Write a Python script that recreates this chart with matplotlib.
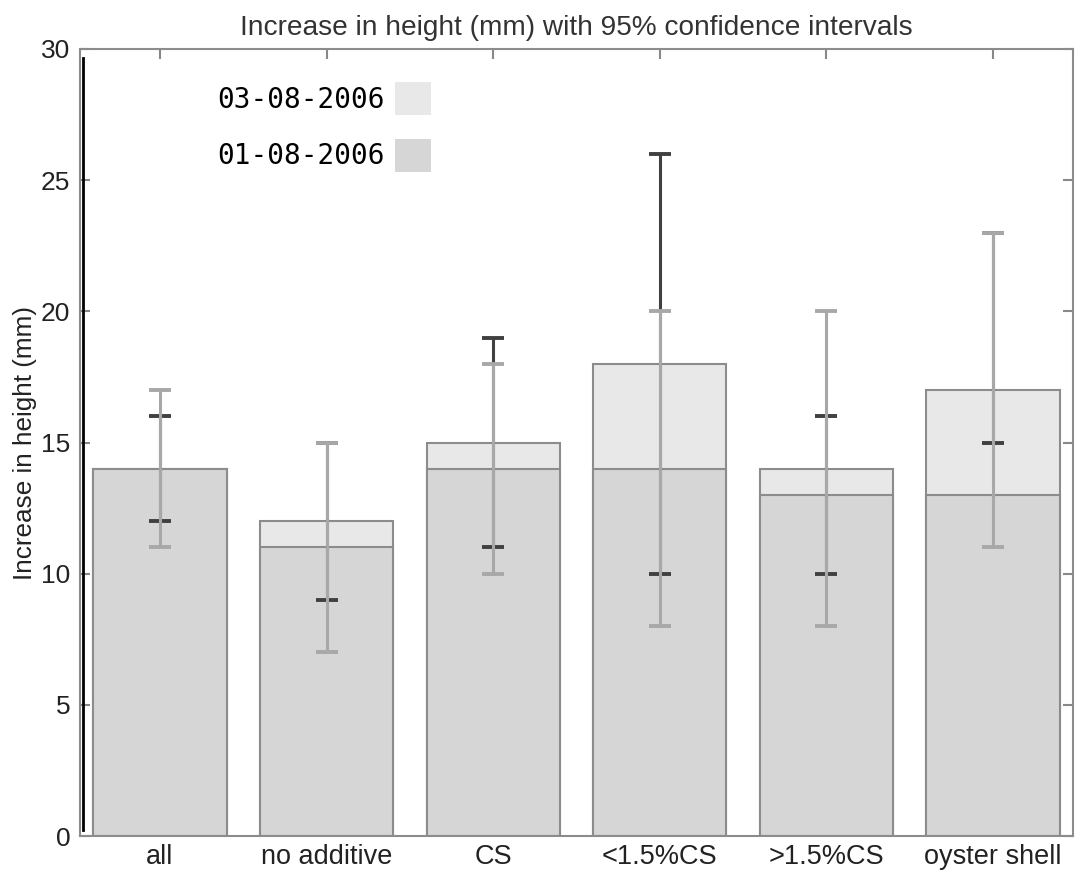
import matplotlib.pyplot as plt
from matplotlib.patches import Patch
from matplotlib.lines import Line2D
import numpy as np

categories = ['all', 'no additive', 'CS', '<1.5%CS', '>1.5%CS', 'oyster shell']
height_0308 = [14, 12, 15, 18, 14, 17]
height_0108 = [14, 11, 14, 14, 13, 13]

# confidence intervals (lower, upper)
ci_gray_low = [11, 7, 10, 8, 8, 11]
ci_gray_high = [17, 15, 18, 20, 20, 23]
ci_dark_low = [12, 9, 11, 10, 10, 15]
ci_dark_high = [16, 15, 19, 26, 16, 23]

light = '#e8e8e8'
mid = '#d6d6d6'
edge = '#8c8c8c'
plt.rcParams['font.family'] = ['Liberation Sans', 'DejaVu Sans']

fig = plt.figure(figsize=(10.75, 8.82), dpi=100)
ax = fig.add_axes([80/1075, 1-836/882, 993/1075, 787/882])

x = np.arange(len(categories))
ax.bar(x, height_0308, width=0.8, color=light, edgecolor=edge, linewidth=1.5, zorder=1)
ax.bar(x, height_0108, width=0.8, color=mid, edgecolor=edge, linewidth=1.5, zorder=2)

def draw_ci(low, high, color, z):
    low = np.array(low, float)
    high = np.array(high, float)
    mid_pt = (low + high) / 2
    ax.errorbar(x, mid_pt, yerr=[mid_pt - low, high - mid_pt], fmt='none',
                ecolor=color, elinewidth=2.2, capsize=8, capthick=2.8, zorder=z)

draw_ci(ci_dark_low, ci_dark_high, '#404040', 3)
draw_ci(ci_gray_low, ci_gray_high, '#a8a8a8', 4)

ax.set_xlim(-0.48, 5.48)
ax.set_ylim(0, 30)
ax.set_xticks(x)
ax.set_xticklabels(categories, fontsize=19.5, color='#222222')
ax.set_yticks([0, 5, 10, 15, 20, 25, 30])
ax.tick_params(axis='y', labelsize=19, colors='#888888', labelcolor='#222222',
               direction='in', length=7, width=1.5, right=True, pad=7)
ax.tick_params(axis='x', colors='#888888', labelcolor='#222222',
               direction='in', length=7, width=1.5, top=True, pad=6)
for s in ax.spines.values():
    s.set_color('#8c8c8c')
    s.set_linewidth(1.5)

ax.set_ylabel('Increase in height (mm)', fontsize=18.8, color='#222222', labelpad=3)
ax.set_title('Increase in height (mm) with 95% confidence intervals',
             fontsize=20.2, color='#333333', pad=10)

# black left edge line
fig.add_artist(Line2D([83/1075, 83/1075], [1-830/882, 1-58/882],
                      color='black', linewidth=2))

handles = [Patch(facecolor=light, edgecolor='none'),
           Patch(facecolor=mid, edgecolor='none')]
leg = ax.legend(handles, ['03-08-2006', '01-08-2006'], loc='upper right',
                bbox_to_anchor=((431-80)/993, 1-(82-49)/787), frameon=False,
                markerfirst=False, prop={'family': 'DejaVu Sans Mono', 'size': 20},
                handlelength=1.3, handleheight=1.45, labelspacing=0.85,
                handletextpad=0.35, borderpad=0, borderaxespad=0)

fig.savefig('out.png', dpi=100)
